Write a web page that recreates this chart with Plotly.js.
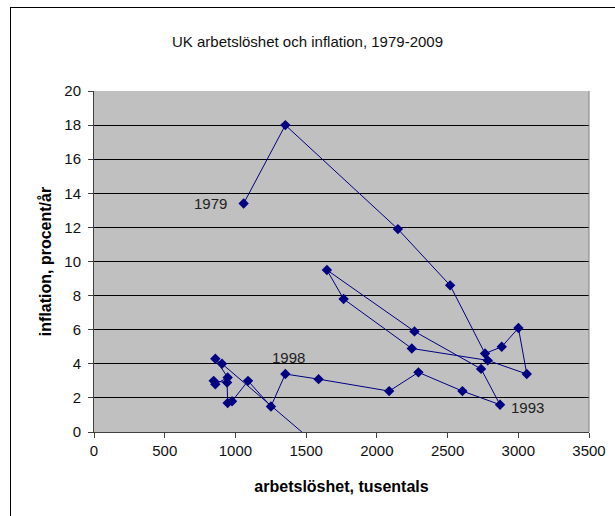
<!DOCTYPE html>
<html>
<head>
<meta charset="utf-8">
<script src="https://cdn.plot.ly/plotly-3.0.1.min.js"></script>
<style>
  html, body { margin: 0; padding: 0; background: #fff; overflow: hidden; }
  #wrap { position: relative; width: 615px; height: 516px; overflow: hidden; }
  #chart { width: 615px; height: 516px; }
  #frame { position: absolute; left: 10px; top: 7px; width: 700px; height: 600px;
           border-left: 1px solid #000; border-top: 1px solid #000; pointer-events: none; }
</style>
</head>
<body>
<div id="wrap">
  <div id="chart"></div>
  <div id="frame"></div>
</div>
<script>
// Data
const years = [1979,1980,1981,1982,1983,1984,1985,1986,1987,1988,1989,1990,1991,1992,1993,1994,
               1995,1996,1997,1998,1999,2000,2001,2002,2003,2004,2005,2006,2007,2008,2009];
const unemployment = [1058,1353,2149,2518,2765,2883,3001,3060,2784,2247,1765,1647,2266,2737,2871,2605,
                      2294,2087,1588,1353,1251,1089,976,945,941,846,858,945,858,905,1540];
const inflation = [13.4,18.0,11.9,8.6,4.6,5.0,6.1,3.4,4.2,4.9,7.8,9.5,5.9,3.7,1.6,2.4,
                   3.5,2.4,3.1,3.4,1.5,3.0,1.8,1.7,2.9,3.0,2.8,3.2,4.3,4.0,-0.5];
const labelledYears = [1979, 1998, 1993];
const xTicks = [0,500,1000,1500,2000,2500,3000,3500];
const yTicks = [0,2,4,6,8,10,12,14,16,18,20];

const titleText = 'UK arbetslöshet och inflation, 1979-2009';
const xTitle = 'arbetslöshet, tusentals';
const yTitle = 'inflation, procent/år';

const FONT = '"Liberation Sans", Arial, sans-serif';
const NAVY = '#000080';

const labelStyle = {
  1979: {xanchor: 'right', yanchor: 'middle', xshift: -15, yshift: 0},
  1998: {xanchor: 'center', yanchor: 'middle', xshift: 3, yshift: 17},
  1993: {xanchor: 'left', yanchor: 'middle', xshift: 9, yshift: -3}
};

const annotations = labelledYears.map(y => {
  const i = years.indexOf(y);
  return Object.assign({
    x: unemployment[i], y: inflation[i], xref: 'x', yref: 'y',
    text: String(y), showarrow: false,
    font: {family: FONT, size: 15, color: '#222'}
  }, labelStyle[y]);
});

const trace = {
  type: 'scatter',
  mode: 'lines+markers',
  x: unemployment,
  y: inflation,
  text: years.map(String),
  line: {color: NAVY, width: 1},
  marker: {symbol: 'diamond', size: 8, color: NAVY},
  hoverinfo: 'text+x+y'
};

const layout = {
  width: 615, height: 516,
  margin: {l: 94, r: 26, t: 91, b: 84},
  paper_bgcolor: '#ffffff',
  plot_bgcolor: '#c0c0c0',
  showlegend: false,
  font: {family: FONT, size: 15, color: '#000'},
  title: {
    text: titleText,
    font: {family: FONT, size: 15, color: '#111'},
    x: 0.5, xref: 'container', xanchor: 'center',
    y: 1 - 42/516, yref: 'container', yanchor: 'middle'
  },
  xaxis: {
    range: [0, 3500], tickvals: xTicks, ticktext: xTicks.map(String),
    showgrid: false, zeroline: false,
    showline: true, linecolor: '#404040', linewidth: 1,
    ticks: 'outside', ticklen: 5, tickcolor: '#404040',
    tickfont: {family: FONT, size: 15, color: '#111'},
    title: {text: xTitle, standoff: 22, font: {family: FONT, size: 16, color: '#000', weight: 'bold'}},
    fixedrange: true
  },
  yaxis: {
    range: [0, 20], tickvals: yTicks, ticktext: yTicks.map(String),
    showgrid: true, gridcolor: '#000000', gridwidth: 1,
    zeroline: false,
    showline: true, linecolor: '#404040', linewidth: 1,
    ticks: 'outside', ticklen: 5, tickcolor: '#404040',
    ticklabelstandoff: 4,
    tickfont: {family: FONT, size: 15, color: '#111'},
    title: {text: yTitle, standoff: 8, font: {family: FONT, size: 16, color: '#000', weight: 'bold'}},
    fixedrange: true
  },
  shapes: [
    {type: 'line', xref: 'paper', yref: 'paper', x0: 1, x1: 1, y0: 0, y1: 1,
     line: {color: '#808080', width: 1}}
  ],
  annotations: annotations
};

Plotly.newPlot('chart', [trace], layout, {displayModeBar: false, staticPlot: true});
</script>
</body>
</html>
